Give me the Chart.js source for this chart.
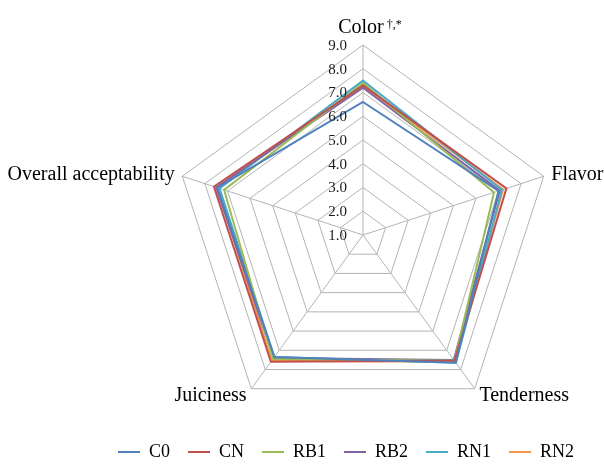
<!DOCTYPE html>
<html>
<head>
<meta charset="utf-8">
<script src="https://cdn.jsdelivr.net/npm/chart.js@4.4.0/dist/chart.umd.min.js"></script>
<style>
  html, body { margin: 0; padding: 0; background: #ffffff; }
  #wrap { width: 604px; height: 465px; }
</style>
</head>
<body>
<div id="wrap"><canvas id="Cnvs"></canvas></div>
<script>
// axes, ticks and series
var axisLabels = ['Color', 'Flavor', 'Tenderness', 'Juiciness', 'Overall acceptability'];
var tickLabels = ['1.0', '2.0', '3.0', '4.0', '5.0', '6.0', '7.0', '8.0', '9.0'];
var seriesNames = ['C0', 'CN', 'RB1', 'RB2', 'RN1', 'RN2'];
var seriesColors = ['#4F81BD', '#C0504D', '#9BBB59', '#8064A2', '#4BACC6', '#F79646'];

var C0  = [6.6, 7.0,  7.65, 7.35, 7.45];
var CN  = [7.3, 7.35, 7.55, 7.6,  7.6];
var RB1 = [7.4, 6.8,  7.55, 7.45, 7.15];
var RB2 = [7.2, 7.05, 7.5,  7.4,  7.5];
var RN1 = [7.5, 7.15, 7.65, 7.35, 7.35];
var RN2 = [7.3, 7.2,  7.6,  7.55, 7.45];

var seriesValues = [C0, CN, RB1, RB2, RN1, RN2];

var datasets = seriesNames.map(function(name, i) {
  return {
    label: name,
    data: seriesValues[i],
    borderColor: seriesColors[i],
    backgroundColor: seriesColors[i],
    borderWidth: 2,
    fill: false,
    pointRadius: 0,
    pointHoverRadius: 0,
    tension: 0
  };
});

// tick and axis texts, placed with the radial scale's own geometry
var axisText = {
  id: 'axisText',
  afterDraw: function(chart) {
    var s = chart.scales.r;
    var ctx = chart.ctx;
    ctx.save();
    ctx.fillStyle = '#1a1a1a';
    ctx.font = '15px "Liberation Serif"';
    ctx.textAlign = 'right';
    ctx.textBaseline = 'middle';
    tickLabels.forEach(function(t) {
      var d = s.getDistanceFromCenterForValue(parseFloat(t));
      ctx.fillText(t, s.xCenter - 16, s.yCenter - d + 1);
    });

    ctx.fillStyle = '#000000';
    var big = '20px "Liberation Serif"';
    var small = '12px "Liberation Serif"';
    axisLabels.forEach(function(lab, i) {
      if (i === 0) {
        var p = s.getPointPosition(0, s.drawingArea + 7);
        var sup = ' \u2020,*';
        ctx.font = big;
        var w1 = ctx.measureText(lab).width;
        ctx.font = small;
        var w2 = ctx.measureText(sup).width;
        var x0 = p.x + 7 - (w1 + w2) / 2;
        ctx.textAlign = 'left';
        ctx.textBaseline = 'bottom';
        ctx.font = big;
        ctx.fillText(lab, x0, p.y);
        ctx.font = small;
        ctx.fillText(sup, x0 + w1, p.y - 7);
        return;
      }
      var q = s.getPointPosition(i, s.drawingArea + 8);
      ctx.font = big;
      ctx.textBaseline = 'middle';
      ctx.textAlign = (i === 1 || i === 2) ? 'left' : 'right';
      ctx.fillText(lab, q.x, q.y + 1);
    });
    ctx.restore();
  }
};

var chart = new Chart(document.getElementById('Cnvs'), {
  type: 'radar',
  data: { labels: axisLabels, datasets: datasets },
  plugins: [axisText],
  options: {
    responsive: true,
    maintainAspectRatio: false,
    animation: false,
    layout: { padding: { left: 88, right: 0, top: 0, bottom: -6 } },
    plugins: {
      tooltip: { enabled: false },
      legend: {
        position: 'bottom',
        labels: {
          usePointStyle: true,
          pointStyle: 'line',
          pointStyleWidth: 22,
          padding: 18,
          color: '#000000',
          font: { family: 'Liberation Serif', size: 18 }
        }
      }
    },
    scales: {
      r: {
        min: 1,
        max: 9,
        ticks: { stepSize: 1, display: false },
        pointLabels: { display: false },
        grid: { color: '#B4B4B4', lineWidth: 1 },
        angleLines: { color: '#B4B4B4', lineWidth: 1 },
        afterFit: function(scale) {
          scale.xCenter = 363;
          scale.yCenter = 235;
          scale.drawingArea = 190;
        }
      }
    }
  }
});
</script>
</body>
</html>
